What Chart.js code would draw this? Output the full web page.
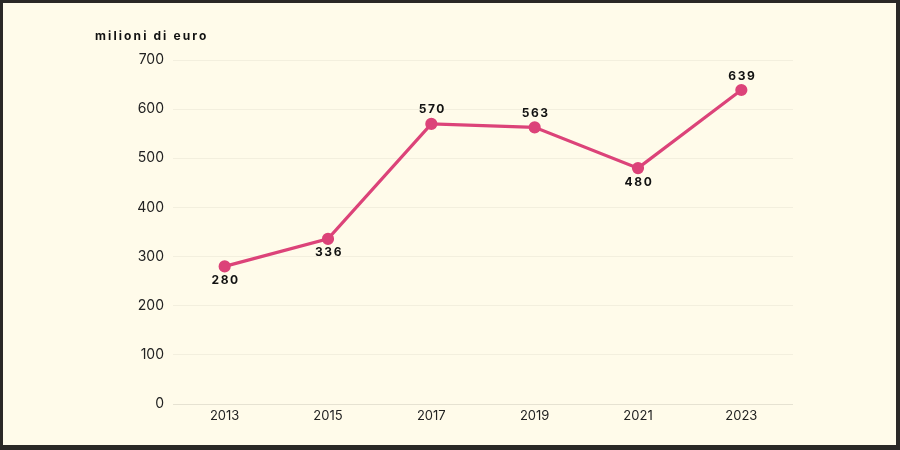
<!DOCTYPE html>
<html>
<head>
<meta charset="utf-8">
<script src="https://cdn.jsdelivr.net/npm/chart.js@4"></script>
<style>
  html, body { margin: 0; padding: 0; }
  .frame {
    width: 900px; height: 450px; box-sizing: border-box;
    border: 3px solid #2a2826; border-right-width: 4px; border-bottom-width: 5px;
    background: #fffbea;
  }
  .frame canvas { display: block; }
</style>
</head>
<body>
<div class="frame">
  <canvas id="chart" width="893" height="442"></canvas>
</div>
<script>
  // dati
  const anni = ['2013', '2015', '2017', '2019', '2021', '2023'];
  const valori = [280, 336, 570, 563, 480, 639];
  const unita = 'milioni di euro';

  const rosa = '#dc4379';

  // titolo dell'asse in alto a sinistra
  const titoloAsse = {
    id: 'titoloAsse',
    afterDraw(chart) {
      const ctx = chart.ctx;
      ctx.save();
      ctx.font = 'bold 12px Inter';
      ctx.letterSpacing = '2.1px';
      ctx.fillStyle = '#111';
      ctx.textAlign = 'left';
      ctx.textBaseline = 'middle';
      ctx.fillText(unita, 92, 33);
      ctx.restore();
    }
  };

  // etichette dei valori sopra / sotto i punti
  const etichette = {
    id: 'etichette',
    afterDatasetsDraw(chart) {
      const ctx = chart.ctx;
      const meta = chart.getDatasetMeta(0);
      ctx.save();
      ctx.font = 'bold 12px Inter';
      ctx.letterSpacing = '1.6px';
      ctx.fillStyle = '#111';
      ctx.textAlign = 'center';
      ctx.textBaseline = 'middle';
      meta.data.forEach((pt, i) => {
        const v = valori[i];
        const sotto = i < valori.length - 1 && valori[i + 1] > v;
        ctx.fillText(String(v), pt.x + 1, pt.y + (sotto ? 14 : -14));
      });
      ctx.restore();
    }
  };

  new Chart(document.getElementById('chart'), {
    type: 'line',
    data: {
      labels: anni,
      datasets: [{
        data: valori,
        borderColor: rosa,
        backgroundColor: rosa,
        borderWidth: 3.2,
        pointRadius: 4.5,
        pointHoverRadius: 4.5,
        tension: 0
      }]
    },
    options: {
      responsive: false,
      animation: false,
      layout: { padding: { left: 0, right: 103, top: 57, bottom: 0 } },
      plugins: {
        legend: { display: false },
        tooltip: { enabled: false }
      },
      scales: {
        x: {
          offset: true,
          grid: { display: false, drawTicks: false },
          border: { display: false },
          ticks: { color: '#222', font: { family: 'Inter', size: 13 }, padding: 4 },
          afterFit(scale) { scale.height = 41; }
        },
        y: {
          min: 0,
          max: 700,
          ticks: { stepSize: 100, color: '#222', font: { family: 'Inter', size: 14 }, padding: 9 },
          grid: {
            drawTicks: false,
            color: ctx => ctx.tick && ctx.tick.value === 0 ? '#e6e2d2' : '#f3efde'
          },
          border: { display: false },
          afterFit(scale) { scale.width = 170; }
        }
      }
    },
    plugins: [titoloAsse, etichette]
  });
</script>
</body>
</html>
